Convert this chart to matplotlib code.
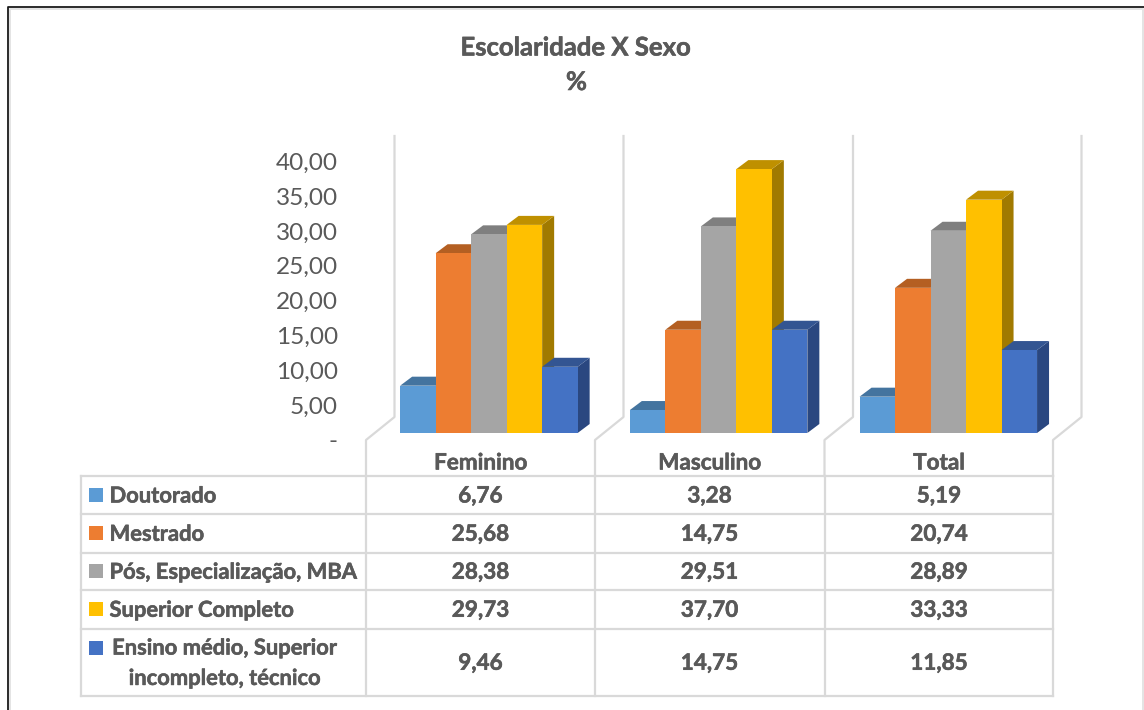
import matplotlib
matplotlib.use("Agg")
import matplotlib.pyplot as plt
import matplotlib.patheffects as pe
from matplotlib.patches import Polygon, Rectangle

plt.rcParams['font.family'] = ['Lato', 'DejaVu Sans']

# Data
grupos = ["Feminino", "Masculino", "Total"]
series = ["Doutorado", "Mestrado", "Pós, Especialização, MBA", "Superior Completo",
          "Ensino médio, Superior\nincompleto, técnico"]
doutorado = [6.76, 3.28, 5.19]
mestrado = [25.68, 14.75, 20.74]
pos = [28.38, 29.51, 28.89]
superior = [29.73, 37.70, 33.33]
ensino = [9.46, 14.75, 11.85]
valores = [doutorado, mestrado, pos, superior, ensino]
ticks = [0, 5, 10, 15, 20, 25, 30, 35, 40]
tick_labels = ["-", "5,00", "10,00", "15,00", "20,00", "25,00", "30,00", "35,00", "40,00"]

cores = ["#5B9BD5", "#ED7D31", "#A5A5A5", "#FFC000", "#4472C4"]
cores_topo = ["#44749F", "#B45F22", "#7F7F7F", "#BF9000", "#335592"]
cores_lado = ["#3A6288", "#9C521D", "#6C6C6C", "#A17A00", "#2A4780"]

W, H = 1144, 710
TEXTO = "#595959"
LINHA = "#D9D9D9"
NEGRITO = [pe.withStroke(linewidth=0.4, foreground=TEXTO)]

fig = plt.figure(figsize=(W / 100, H / 100), dpi=100)

# overlay in pixel coordinates for the frame, the walls and the table
fundo = fig.add_axes([0, 0, 1, 1])
fundo.set_xlim(0, W)
fundo.set_ylim(H, 0)
fundo.axis("off")


def texto_negrito(x, y, s, tamanho=16.2, **kw):
    fundo.text(x, y, s, va="center", fontsize=tamanho, fontweight="bold", color=TEXTO,
               path_effects=NEGRITO, **kw)


# Frame of the pasted chart
fundo.plot([9.5, 9.5, 1143, 1143, 1143], [H, 9, 9, 9, H], color="#E4E4E4", lw=1.4)
fundo.plot([7.5, 7.5, W], [H, 6.5, 6.5], color="#1a1a1a", lw=1.3)

texto_negrito(576, 47.5, "Escolaridade X Sexo", tamanho=18.5, ha="center")
texto_negrito(576.5, 82, "%", tamanho=18.5, ha="center")

# Walls and floor
colunas = [366, 595, 824.5, 1053]
for x in colunas:
    fundo.plot([x, x, x + 28.5, x + 28.5], [476, 440, 417, 136], color=LINHA, lw=1.6)

# Table
linhas_y = [476, 514, 552.5, 590, 628.5, 696]
for y in linhas_y:
    fundo.plot([81, 1053], [y, y], color=LINHA, lw=1.6)
for x in [81] + colunas:
    fundo.plot([x, x], [476, 696], color=LINHA, lw=1.6)

for x, nome in zip(colunas, grupos):
    texto_negrito(x + 114.5, 463, nome, ha="center")

for i, nome in enumerate(series):
    meio = (linhas_y[i] + linhas_y[i + 1]) / 2
    if i < 4:
        fundo.add_patch(Rectangle((89, meio - 7.5), 14, 14, color=cores[i], lw=0))
        texto_negrito(109.5, meio + 1, nome, tamanho=15.8, ha="left")
    else:
        fundo.add_patch(Rectangle((89, 641), 14, 14, color=cores[i], lw=0))
        texto_negrito(225, meio + 1, nome, tamanho=15.8, ha="center", linespacing=1.55)
    for j in range(3):
        texto_negrito(colunas[j] + 114.5, meio + 1, f"{valores[i][j]:.2f}".replace(".", ","),
                      ha="center")

# Bars: 7 px per unit above the base line at y=433, one unit of x per group
ax = fig.add_axes([366 / W, 1 - 433 / H, 687 / W, 315 / H])
ax.set_xlim(0, 3)
ax.set_ylim(0, 45)
ax.axis("off")
ax.patch.set_alpha(0)

largura = 35.5 * 3 / 687
dx = 12 * 3 / 687
dy = 9 / 7
desvio = 8.4 * 3 / 687
passo = 229.7 * 3 / 687

for j in range(3):
    inicio = 0.5 + j * passo + desvio - 2.5 * largura
    for i in range(5):
        x0 = inicio + i * largura
        x1 = x0 + largura
        v = valores[i][j]
        ax.add_patch(Polygon([(x1, 0), (x1 + dx, dy), (x1 + dx, v + dy), (x1, v)],
                             color=cores_lado[i], lw=0, clip_on=False))
        ax.add_patch(Polygon([(x0, v), (x0 + dx, v + dy), (x1 + dx, v + dy), (x1, v)],
                             color=cores_topo[i], lw=0, clip_on=False))
        ax.bar(x0, v, width=largura, align="edge", color=cores[i], clip_on=False)

# Value axis labels sit on the front edge of the floor, 7 px under the bars
for t, rotulo in zip(ticks, tick_labels):
    fundo.text(338, 442 - t * 6.97, rotulo, ha="right", va="center", fontsize=17.6, color=TEXTO)

fig.savefig("out.png", dpi=100)
